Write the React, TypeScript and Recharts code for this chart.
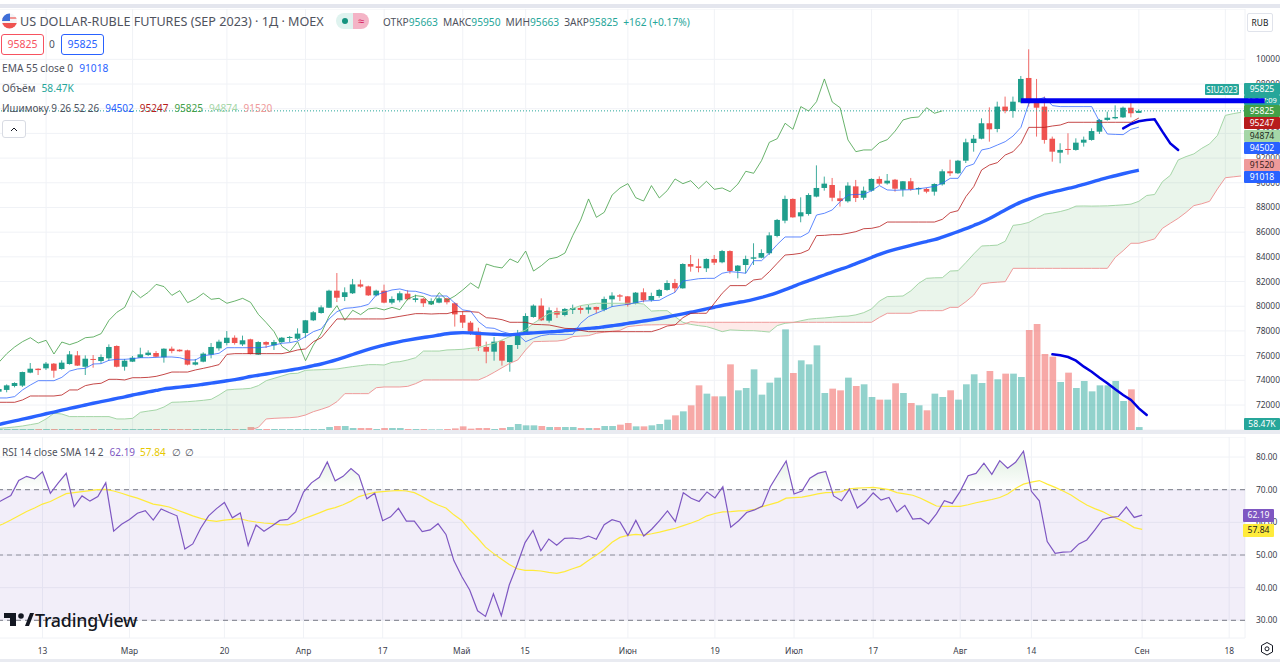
// App.tsx - USD/RUB futures daily chart with ichimoku, EMA, volume and RSI
import {
  ComposedChart,
  Bar,
  Cell,
  Line,
  Area,
  XAxis,
  YAxis,
  CartesianGrid,
  ReferenceLine,
  ReferenceArea,
} from "recharts";

const opens = [
  73080,73220,73540,73570,74620,74940,74970,75350,74920,75320,
  76020,75100,75730,75560,75780,76780,75100,75510,75830,76050,
  76210,75860,76560,76480,76430,75270,75510,76080,76590,77020,
  77450,76910,77320,76080,77100,76830,77100,77450,77370,77830,
  78860,79450,79880,81260,80750,81050,81770,81610,80880,81260,
  80290,80480,81020,80510,80610,80150,80290,80640,80240,79290,
  78670,77940,76700,76320,77180,75480,76860,77890,79130,80050,
  78830,79610,79290,79700,79860,79720,79940,79720,80560,80880,
  80800,80210,81130,80500,80830,81320,81880,81450,83420,83230,
  83070,83830,83560,84470,82850,83340,83850,83930,84290,85690,
  86930,88690,87280,87470,88880,89580,89820,88740,88500,89710,
  88790,89360,90310,89950,90250,89440,90120,89470,89500,89280,
  89870,90930,90770,91790,93220,93570,94820,94360,96170,95810,
  96520,98490,96490,96170,93570,92440,92740,92660,93250,93470,
  94140,95090,95220,95300,96080,95663,
];
const highs = [
  73400,73670,73840,74700,75400,74970,75480,75400,75620,76370,
  76370,76020,76050,76100,76910,76830,75730,75970,76640,76430,
  76370,76590,76730,76510,76480,75730,76270,77020,77290,77990,
  77640,77620,77370,77160,77160,77270,77510,77590,78210,78890,
  79610,80070,81340,82690,81530,82210,82150,81670,81340,81750,
  80800,81210,81290,80940,80690,80640,80780,80690,80320,79610,
  78800,78260,77130,77510,77270,76860,78080,79430,80150,80640,
  79910,79880,79860,80130,80020,80100,79970,80780,81130,80990,
  80830,81150,81450,81100,81400,82100,82210,83480,84150,83850,
  83880,84150,84560,84530,83340,84100,85100,84610,85990,87070,
  88960,88740,88820,89150,91410,90500,90390,89360,90040,90230,
  89690,90360,90520,90710,90310,90140,90390,89630,89600,89960,
  91090,91870,91850,93570,93870,95220,96110,96570,96980,96980,
  98650,100810,98410,96980,93740,93200,94010,93600,93740,94410,
  95170,95760,96270,96170,96520,95950,
];
const lows = [
  72970,73030,73430,73460,74570,74430,74840,74210,74860,75270,
  75160,74430,75020,75380,75590,75050,74780,75480,75810,75970,
  75860,75430,76190,76320,75210,75210,75460,75780,76400,76830,
  76890,76780,76100,76050,76620,76460,77020,77100,77270,77430,
  78800,79400,79860,80340,80420,80990,81500,80830,80800,80240,
  80150,80320,80480,80320,79940,80100,80240,80150,78350,78240,
  77670,76370,75380,75590,75190,74700,76540,77670,79070,78800,
  78670,79050,79180,79370,79400,79400,79430,79590,79940,80420,
  79970,80150,80320,80370,80690,81260,81130,81420,82800,82750,
  82770,83340,83480,82640,82260,82670,83340,83880,84150,85580,
  86720,87170,86800,87340,88820,89360,88500,88070,88390,88440,
  88610,89280,89820,89850,89280,88880,89360,89040,89150,88960,
  89770,90550,90710,91600,92520,93520,93330,94090,95630,95270,
  96440,96170,93740,93170,91710,91580,92280,92600,92930,93410,
  93950,95030,95140,95250,95300,95663,
];
const closes = [
  73290,73590,73780,74670,74940,74830,75350,74780,75430,76100,
  75190,75750,75670,75890,76700,75100,75590,75830,76100,76240,
  75910,76560,76370,76350,75270,75460,76160,76700,77130,77450,
  77020,77240,76130,77100,76890,77100,77450,77510,77780,78860,
  79510,79910,81260,80690,81130,81770,81590,80880,81260,80290,
  80590,81050,80560,80640,80240,80420,80640,80320,79340,78670,
  77940,76750,76320,77130,75590,76860,77800,79210,80050,78860,
  79670,79320,79780,79860,79700,79910,79720,80590,80860,80780,
  80130,81100,80480,80830,81320,81880,81450,83420,83210,83100,
  83830,83530,84470,82850,83290,83830,83960,84310,85740,86990,
  88690,87200,87610,89010,89580,89930,88790,88520,89770,88770,
  89360,90310,89930,90170,89520,90120,89470,89580,89280,89900,
  90930,90770,91790,93280,93570,94820,94330,96170,95810,96570,
  98410,96540,96080,93470,92520,92660,92660,93250,93490,94190,
  95090,95270,95330,96080,95630,95825,
];
const tenkan = [
  72570,72570,72680,73220,73620,73970,73970,73970,74240,74750,
  74920,74970,75320,75350,75620,75700,75700,75750,75830,75830,
  75860,75890,75890,75830,75650,75650,76000,76080,76190,76640,
  76640,76640,76640,76640,76700,76860,77000,77050,77180,77540,
  77940,78160,78970,79560,79830,79880,79970,80150,80910,81130,
  81320,81400,81230,81210,81050,80830,80830,80830,80240,79700,
  79610,78750,78260,78210,77940,77780,77720,77130,77400,77620,
  77720,77720,77720,77720,78620,79160,79430,79700,79970,80070,
  80150,80290,80420,80450,80480,80830,81130,82040,82130,82230,
  82260,82260,82670,82800,82750,82670,83690,83690,84290,85000,
  85610,85610,85610,85960,87390,87530,87800,88470,89010,89060,
  89060,89360,89770,89420,89390,89420,89440,89520,89600,89710,
  89960,90360,90360,91300,91520,92660,92790,93060,93330,93790,
  94490,96440,96700,96920,96250,96170,96170,96170,96170,96170,
  94950,93950,93920,93900,94330,94502,
];
const kijun = [
  72220,72220,72220,72410,72730,72730,72730,72730,72810,73220,
  73220,73570,73700,73760,74080,74080,74030,74210,74210,74240,
  74320,74480,74670,74670,74670,74840,74970,75110,75270,76100,
  76160,76160,76160,76160,76160,76160,76160,76290,76460,76540,
  77130,77450,78210,78970,78970,78970,78970,78970,78970,78970,
  79070,79180,79290,79400,79400,79370,79400,79400,79560,79560,
  79560,79510,79070,79020,78910,78700,78700,78700,78530,78510,
  78480,78350,78210,78180,78050,77940,77940,77940,77940,77940,
  77940,77940,77940,77940,78130,78400,78480,79070,79430,79430,
  79430,80240,81050,81670,81670,81670,82130,82210,82800,83480,
  84150,84200,84290,84560,85720,85740,85800,85800,85910,86040,
  86280,86310,86450,86820,86820,86820,86820,86820,86820,86820,
  87040,87580,87740,88880,89690,91040,91440,91630,92250,92520,
  93200,94490,94490,94490,94600,94680,94900,94900,94900,94900,
  94900,94900,94900,94900,94900,95247,
];
const chikou = [
  75460,76160,76700,77130,77450,77020,77240,76130,77100,76890,
  77100,77450,77510,77780,78860,79510,79910,81260,80690,81130,
  81770,81590,80880,81260,80290,80590,81050,80560,80640,80240,
  80420,80640,80320,79340,78670,77940,76750,76320,77130,75590,
  76860,77800,79210,80050,78860,79670,79320,79780,79860,79700,
  79910,79720,80590,80860,80780,80130,81100,80480,80830,81320,
  81880,81450,83420,83210,83100,83830,83530,84470,82850,83290,
  83830,83960,84310,85740,86990,88690,87200,87610,89010,89580,
  89930,88790,88520,89770,88770,89360,90310,89930,90170,89520,
  90120,89470,89580,89280,89900,90930,90770,91790,93280,93570,
  94820,94330,96170,95810,96570,98410,96540,96080,93470,92520,
  92660,92660,93250,93490,94190,95090,95270,95330,96080,95630,
  95825,
];
const senkouA = [
  70110,70160,70220,70300,70410,70520,70870,71330,71270,71060,
  71060,71060,71060,71060,71060,70870,70870,70920,71410,71510,
  71600,71840,72220,72240,72270,72320,72380,72460,72810,73220,
  73270,73300,73350,73570,73970,74160,74350,74540,74570,74810,
  74840,74860,74890,74920,75020,75110,75190,75270,75270,75240,
  75460,75510,75650,75830,76370,76370,76370,76460,76480,76510,
  76590,76640,76860,77000,77270,77540,77810,78080,78620,79020,
  79430,79510,79560,79830,80050,80150,80240,80240,80240,80240,
  80240,80240,80180,79610,79640,79640,79160,78700,78530,78430,
  78350,78160,77940,78080,78050,78020,78020,77970,77910,78430,
  78620,78680,78820,78950,79010,79050,79110,79180,79200,79300,
  79480,79780,80420,80780,80800,80830,81250,81860,82260,82300,
  82310,82850,82880,83540,84240,84880,84910,84950,85260,86550,
  86630,86790,87140,87460,87550,87670,87840,88110,88120,88110,
  88120,88130,88170,88210,88270,88500,88970,89050,90090,90600,
  91850,92120,92340,92790,93150,93840,95460,95600,95710,
];
const senkouB = [
  69800,69800,69800,69800,69800,69800,69800,69800,69800,69800,
  69800,69800,69800,69800,69800,69800,69800,69800,69800,69800,
  69800,69800,69800,69800,69800,69800,69800,69800,69800,69800,
  69800,69800,69980,70190,70870,70920,70950,70970,71030,71190,
  71460,71650,71870,72270,72920,72920,72920,72920,73400,73460,
  73460,73460,73510,73730,74030,74030,74030,74030,74030,74030,
  74030,74030,74300,74650,75020,75380,75650,76460,77130,77150,
  77170,77180,77270,77540,77580,77620,77810,77900,77980,78050,
  78350,78420,78480,78490,78500,78510,78520,78530,78750,78700,
  78700,78700,78700,78700,78700,78700,78700,78700,78700,78700,
  78700,78700,78700,78700,78700,78700,78700,78700,78700,78700,
  78700,78700,79100,79430,79430,79430,79430,79640,79640,79640,
  79640,79910,79910,80370,80910,81800,81900,81950,81990,83070,
  83070,83070,83070,83070,83070,83070,83070,83070,83070,83070,
  83070,83070,83960,84500,85100,85100,85270,85450,86310,86720,
  87120,87600,88150,88300,88500,89500,90410,90480,90550,
];
const ema55 = [
  70430,70570,70710,70850,70990,71140,71290,71430,71580,71720,
  71860,72000,72140,72270,72400,72530,72660,72810,72930,73060,
  73180,73310,73380,73450,73520,73590,73680,73770,73860,73960,
  74060,74170,74310,74410,74510,74620,74720,74820,74920,75050,
  75190,75320,75490,75680,75880,76090,76300,76500,76680,76850,
  77000,77140,77260,77370,77470,77560,77670,77770,77830,77860,
  77840,77800,77760,77730,77700,77680,77740,77800,77840,77880,
  77920,77960,78020,78080,78150,78210,78260,78340,78420,78500,
  78610,78700,78800,78900,79010,79130,79260,79380,79510,79640,
  79780,79920,80060,80180,80300,80420,80560,80720,80900,81110,
  81340,81590,81840,82070,82300,82530,82770,82990,83200,83450,
  83700,83950,84200,84420,84600,84770,84930,85090,85240,85390,
  85600,85820,86050,86280,86540,86800,87110,87450,87800,88130,
  88430,88680,88890,89080,89240,89390,89540,89685,89870,90050,
  90240,90420,90570,90730,90880,91018,
];
// volume, thousands of contracts
const volumes = [
  20,20,20,20,20,20,20,20,20,20,
  20,20,20,20,20,20,20,20,20,20,
  20,20,20,20,20,20,20,20,20,20,
  20,20,60,20,20,20,20,20,20,20,
  20,20,60,80,80,40,40,40,20,40,
  40,40,20,20,20,13,13,20,33,73,
  27,40,40,20,40,60,120,93,93,80,
  60,60,60,60,40,40,40,80,80,107,
  140,73,73,93,120,207,293,373,493,893,
  727,673,673,1313,793,840,1213,707,947,1047,
  2013,1140,1393,1313,1693,740,827,793,1047,880,
  914,660,607,607,934,740,540,494,394,727,
  660,794,607,914,1114,940,1180,1014,1127,1127,
  1060,2000,2120,1520,1467,960,1147,840,980,773,
  893,893,980,580,813,58.47,
];
const rsi = [
  65.6,66.9,68.2,72.8,74.1,73.3,75.5,68.9,72.1,75.0,
  64.8,68.1,66.5,67.9,72.1,57.3,59.4,60.9,62.8,63.6,
  60.7,64.1,63.0,62.0,51.8,53.4,58.2,62.0,64.2,66.1,
  61.4,62.9,52.9,59.2,57.3,58.9,60.6,60.9,63.3,69.3,
  72.1,73.8,78.5,72.7,74.1,76.5,74.4,67.2,68.9,60.5,
  61.7,64.3,60.4,60.4,57.2,57.7,59.6,56.3,48.3,43.4,
  39.3,32.9,31.2,38.1,31.4,40.8,47.0,53.8,57.5,51.3,
  54.9,53.0,55.1,55.2,54.9,55.8,54.8,59.3,60.8,60.1,
  56.0,60.6,55.8,57.9,60.5,63.5,60.2,69.1,67.4,66.4,
  69.3,67.5,70.9,58.5,60.5,63.0,63.8,65.0,70.9,74.9,
  78.8,68.7,69.6,73.5,75.0,75.6,68.1,66.6,70.2,64.4,
  66.2,69.0,66.8,67.6,63.2,65.2,61.0,61.2,59.5,62.6,
  66.6,65.8,69.5,74.3,75.0,78.1,74.7,78.9,76.6,78.4,
  81.8,69.5,66.6,54.1,50.5,50.9,51.0,53.4,54.6,57.6,
  60.9,61.5,61.8,64.7,61.5,62.19,
];
const rsiSma = [
  58.6,59.5,60.7,62.0,63.3,64.4,65.6,66.4,67.6,68.8,
  69.1,69.4,69.7,70.0,70.1,69.6,68.9,68.1,67.4,66.5,
  65.6,65.2,64.7,63.8,62.9,62.0,61.2,60.6,60.3,60.7,
  60.9,61.1,60.5,60.1,59.8,59.6,59.3,59.2,59.9,61.1,
  62.0,62.9,63.9,64.5,65.4,66.5,67.9,68.6,69.2,69.4,
  69.6,69.8,69.6,69.1,67.9,66.5,65.3,64.4,62.3,60.6,
  57.7,55.2,52.4,50.5,48.8,47.1,45.8,45.3,45.3,45.1,
  44.7,44.4,44.9,45.8,46.6,48.3,49.9,51.7,53.9,55.4,
  56.0,56.3,56.1,56.5,57.0,57.6,58.2,59.0,59.8,60.7,
  62.0,62.7,63.2,63.3,63.5,63.6,64.0,64.8,65.5,66.2,
  67.4,67.6,67.7,68.2,68.7,69.1,69.2,69.4,70.3,70.5,
  70.6,70.7,70.4,70.0,69.1,68.7,68.3,67.4,66.2,65.0,
  64.9,64.9,64.9,65.4,66.0,66.5,67.0,67.6,68.7,70.4,
  71.7,72.3,72.8,71.7,70.7,69.6,68.4,66.8,65.3,64.2,
  63.3,62.0,61.0,59.9,58.4,57.84,
];

// hand-drawn blue strokes on the original screenshot: [bar index, price]
const drawnLevel = [[130, 96650], [161, 96650]];
const drawnPriceArrow = [
  [143, 94410], [144, 94761], [145, 94977], [146, 95085],
  [147, 95139], [148, 94140], [149, 93195], [150, 92655],
];
const drawnVolumeArrow = [
  [134, 76104], [135, 76023], [136, 75888], [137, 75591], [138, 75105], [139, 74700],
  [140, 74214], [141, 73755], [142, 73269], [143, 72810], [144, 72405], [145, 71730], [146, 71190],
];

const xTickBars = [6, 17, 29, 39, 49, 59, 67, 80, 91, 101, 111, 122, 131, 145, 156];
const xTickLabels = ["13", "Мар", "20", "Апр", "17", "Май", "15", "Июн", "19", "Июл", "17", "Авг", "14", "Сен", "18"];
const priceTicks = [72000, 74000, 76000, 78000, 80000, 82000, 84000, 86000, 88000, 90000, 92000, 94000, 96000, 98000, 100000];
const rsiTicks = [30, 40, 50, 60, 70, 80];

const BAR_COUNT = 159;
const OVERLAY_COUNT = 163;
const BAND = 1250 / BAR_COUNT;
const PRICE_DOMAIN: [number, number] = [69975, 104076];
const RSI_DOMAIN: [number, number] = [24.58, 86.14];

const TEAL = "#1f9e8c";
const RED = "#ef5350";
const GRID = "#f0f2f6";
const FONT = '"Noto Sans", sans-serif';

document.body.style.margin = "0";

const rows = Array.from({ length: BAR_COUNT }, (_, i) => {
  const a = senkouA[i];
  const b = senkouB[i];
  const r = rsi[i];
  return {
    i,
    open: opens[i] ?? null,
    high: highs[i] ?? null,
    low: lows[i] ?? null,
    close: closes[i] ?? null,
    tenkan: tenkan[i] ?? null,
    kijun: kijun[i] ?? null,
    chikou: chikou[i] ?? null,
    a,
    b,
    cloudUp: a >= b ? [b, a] : [a, a],
    cloudDown: a < b ? [a, b] : [b, b],
    ema: ema55[i] ?? null,
    volume: volumes[i] ?? null,
    rsi: r ?? null,
    sma: rsiSma[i] ?? null,
    overbought: r == null ? null : [70, Math.max(70, r)],
  };
});

const overlayRows = Array.from({ length: OVERLAY_COUNT }, (_, i) => ({
  i,
  level: drawnLevel.find((p) => p[0] === i)?.[1] ?? null,
  priceArrow: drawnPriceArrow.find((p) => p[0] === i)?.[1] ?? null,
  volumeArrow: drawnVolumeArrow.find((p) => p[0] === i)?.[1] ?? null,
}));

function Candle(props: any) {
  const { x, y, width, height, payload } = props;
  if (!payload || payload.high == null) return <g />;
  const { open, close, high, low } = payload;
  const h = Math.abs(height);
  const perPrice = h / (high - low);
  const color = close >= open ? TEAL : RED;
  const top = y + (high - Math.max(open, close)) * perPrice;
  const bodyH = Math.max(Math.abs(open - close) * perPrice, 1);
  const cx = x + width / 2;
  return (
    <g>
      <line x1={cx} x2={cx} y1={y} y2={y + h} stroke={color} strokeWidth={1} strokeOpacity={0.85} />
      <rect x={x} y={top} width={width} height={bodyH} fill={color} />
    </g>
  );
}

function Badge(props: { top: number; h?: number; left?: number; w?: number; bg: string; color?: string; text: string; size?: number }) {
  const { top, h = 12, left = 1244, w = 36, bg, color = "#fff", text, size = 8.6 } = props;
  return (
    <div
      style={{
        position: "absolute",
        top,
        left,
        width: w,
        height: h,
        lineHeight: h + "px",
        background: bg,
        color,
        fontSize: size,
        textAlign: "center",
        borderRadius: 1,
      }}
    >
      {text}
    </div>
  );
}

function Label(props: { x: number; y: number; size?: number; children: any; color?: string }) {
  const { x, y, size = 10.2, children, color = "#50535e" } = props;
  return (
    <div
      style={{
        position: "absolute",
        left: x,
        top: y,
        fontSize: size,
        lineHeight: "16px",
        color,
        whiteSpace: "nowrap",
      }}
    >
      {children}
    </div>
  );
}

function Num(props: { c: string; children: any; mx?: number }) {
  return <span style={{ color: props.c, marginLeft: props.mx ?? 0 }}>{props.children}</span>;
}

export default function App() {
  const tickFmt = (v: number) => xTickLabels[xTickBars.indexOf(v)] ?? "";
  const scaleTick = { fontSize: 8.4, fill: "#3c404b", fontFamily: FONT };
  return (
    <div
      style={{
        position: "fixed",
        left: 0,
        top: 0,
        width: 1280,
        height: 664,
        overflow: "hidden",
        background: "#fff",
        fontFamily: FONT,
      }}
    >
      {/* frame bands */}
      <div style={{ position: "absolute", left: 0, top: 4, width: 1280, height: 4, background: "#e4e6ee" }} />
      <div style={{ position: "absolute", left: 0, top: 430, width: 1280, height: 4, background: "#e9ebf1" }} />
      <div style={{ position: "absolute", left: 0, top: 659, width: 1280, height: 3, background: "#e9ebf1" }} />

      {/* grid and price scale */}
      <div style={{ position: "absolute", left: -5, top: 9 }}>
        <ComposedChart width={1285} height={421} data={rows} margin={{ top: 0, right: 0, bottom: 0, left: 0 }}>
          <CartesianGrid stroke={GRID} />
          <XAxis dataKey="i" type="category" hide ticks={xTickBars} interval={0} />
          <YAxis
            orientation="right"
            width={35}
            domain={PRICE_DOMAIN}
            ticks={priceTicks}
            allowDataOverflow
            axisLine={false}
            tickLine={false}
            tickMargin={5}
            tick={scaleTick}
          />
          <Bar dataKey="volume" barSize={6.7} yAxisId={0} isAnimationActive={false} hide />
        </ComposedChart>
      </div>
      {/* volume layer */}
      <div style={{ position: "absolute", left: -5, top: 9 }}>
        <ComposedChart width={1250} height={421} data={rows} margin={{ top: 0, right: 0, bottom: 0, left: 0 }}>
          <XAxis dataKey="i" type="category" hide />
          <YAxis hide domain={[0, 8420]} allowDataOverflow />
          <Bar dataKey="volume" barSize={6.7} isAnimationActive={false}>
            {rows.map((r) => (
              <Cell
                key={r.i}
                fill={(r.close ?? 0) >= (r.open ?? 0) ? "#26a69a" : "#ef5350"}
                fillOpacity={0.5}
              />
            ))}
          </Bar>
        </ComposedChart>
      </div>

      {/* price layer */}
      <div style={{ position: "absolute", left: -5, top: 9 }}>
        <ComposedChart width={1250} height={421} data={rows} margin={{ top: 0, right: 0, bottom: 0, left: 0 }}>
          <XAxis dataKey="i" type="category" hide />
          <YAxis hide domain={PRICE_DOMAIN} allowDataOverflow />
          <Area dataKey={(d: any) => d.cloudUp} stroke="none" fill="#43a047" fillOpacity={0.11} dot={false} activeDot={false} isAnimationActive={false} />
          <Area dataKey={(d: any) => d.cloudDown} stroke="none" fill="#f44336" fillOpacity={0.11} dot={false} activeDot={false} isAnimationActive={false} />
          <ReferenceLine y={95825} stroke="#26a69a" strokeDasharray="1 2" />
          <Line dataKey="a" stroke="#a5d6a7" strokeWidth={1} dot={false} isAnimationActive={false} />
          <Line dataKey="b" stroke="#ef9a9a" strokeWidth={1} dot={false} isAnimationActive={false} />
          <Line dataKey="chikou" stroke="#43a047" strokeWidth={1} strokeOpacity={0.8} dot={false} isAnimationActive={false} />
          <Line dataKey="ema" type="monotone" stroke="#2962ff" strokeWidth={3.4} dot={false} isAnimationActive={false} />
          <Line dataKey="kijun" stroke="#b71c1c" strokeWidth={1} strokeOpacity={0.8} dot={false} isAnimationActive={false} />
          <Line dataKey="tenkan" stroke="#2962ff" strokeWidth={1} strokeOpacity={0.75} dot={false} isAnimationActive={false} />
          <Bar dataKey={(d: any) => (d.high == null ? null : [d.low, d.high])} barSize={5.6} shape={Candle} isAnimationActive={false} />
        </ComposedChart>
      </div>

      {/* RSI pane */}
      <div style={{ position: "absolute", left: -5, top: 437 }}>
        <ComposedChart width={1285} height={226} data={rows} margin={{ top: 0, right: 0, bottom: 0, left: 0 }}>
          <defs>
            <linearGradient id="obGrad" x1="0" y1="0" x2="0" y2="1">
              <stop offset="0%" stopColor="#43a047" stopOpacity={0.3} />
              <stop offset="100%" stopColor="#43a047" stopOpacity={0} />
            </linearGradient>
          </defs>
          <CartesianGrid stroke={GRID} />
          <ReferenceArea y1={30} y2={70} fill="#7e57c2" fillOpacity={0.1} stroke="none" />
          <XAxis
            dataKey="i"
            type="category"
            height={25}
            ticks={xTickBars}
            interval={0}
            tickFormatter={tickFmt}
            axisLine={false}
            tickLine={false}
            tickMargin={4}
            tick={scaleTick}
          />
          <YAxis
            orientation="right"
            width={35}
            domain={RSI_DOMAIN}
            ticks={rsiTicks}
            allowDataOverflow
            axisLine={false}
            tickLine={false}
            tickMargin={5}
            tickFormatter={(v: number) => v.toFixed(2)}
            tick={scaleTick}
          />
          <ReferenceLine y={70} stroke="#787b86" strokeDasharray="5 4" />
          <ReferenceLine y={50} stroke="#787b86" strokeDasharray="5 4" strokeOpacity={0.8} />
          <ReferenceLine y={30} stroke="#787b86" strokeDasharray="5 4" />
          <Area dataKey={(d: any) => d.overbought} stroke="none" fill="url(#obGrad)" dot={false} activeDot={false} isAnimationActive={false} />
          <Line dataKey="sma" stroke="#ffeb3b" strokeWidth={1.2} dot={false} isAnimationActive={false} />
          <Line dataKey="rsi" stroke="#7e57c2" strokeWidth={1.2} dot={false} isAnimationActive={false} />
        </ComposedChart>
      </div>

      {/* header */}
      <svg style={{ position: "absolute", left: 2, top: 13 }} width={15} height={16}>
        <defs>
          <clipPath id="flag"><circle cx={7.5} cy={8} r={7.5} /></clipPath>
        </defs>
        <g clipPath="url(#flag)">
          <rect width={15} height={16} fill="#f4f4f6" />
          <rect y={10} width={15} height={6} fill="#ef5350" />
          <rect y={4} width={15} height={2} fill="#ef5350" opacity={0.6} />
          <rect width={8} height={8} fill="#3f6fd8" />
        </g>
      </svg>
      <Label x={20} y={14} size={12.6}>US DOLLAR-RUBLE FUTURES (SEP 2023) · 1Д · MOEX</Label>
      <div style={{ position: "absolute", left: 336, top: 13, width: 17, height: 16, background: "#dff3ef", borderRadius: "8px 0 0 8px" }} />
      <div style={{ position: "absolute", left: 342, top: 18, width: 6, height: 6, background: "#15937f", borderRadius: 3 }} />
      <div style={{ position: "absolute", left: 353, top: 13, width: 16, height: 16, background: "#f4b4c6", borderRadius: "0 8px 8px 0", color: "#d81b60", fontSize: 11, lineHeight: "15px", textAlign: "center" }}>≈</div>
      <Label x={383} y={14} size={10.2}>
        ОТКР<Num c="#26a69a">95663</Num>
        <span style={{ marginLeft: 5 }}>МАКС</span><Num c="#26a69a">95950</Num>
        <span style={{ marginLeft: 5 }}>МИН</span><Num c="#26a69a">95663</Num>
        <span style={{ marginLeft: 5 }}>ЗАКР</span><Num c="#26a69a">95825</Num>
        <Num c="#26a69a" mx={5}>+162 (+0.17%)</Num>
      </Label>

      <div style={{ position: "absolute", left: 1, top: 34, width: 41, height: 19, border: "1px solid #f7525f", borderRadius: 3, color: "#f7525f", fontSize: 10.5, lineHeight: "19px", textAlign: "center" }}>95825</div>
      <Label x={49} y={36}>0</Label>
      <div style={{ position: "absolute", left: 61, top: 34, width: 41, height: 19, border: "1px solid #2962ff", borderRadius: 3, color: "#2962ff", fontSize: 10.5, lineHeight: "19px", textAlign: "center" }}>95825</div>

      <Label x={2} y={60}>EMA 55 close 0<Num c="#2962ff" mx={6}>91018</Num></Label>
      <Label x={2} y={80}>Объём<Num c="#26a69a" mx={6}>58.47K</Num></Label>
      <Label x={2} y={100} size={10}>
        Ишимоку 9 26 52 26
        <Num c="#2962ff" mx={6}>94502</Num>
        <Num c="#b71c1c" mx={6}>95247</Num>
        <Num c="#43a047" mx={6}>95825</Num>
        <Num c="#a5d6a7" mx={6}>94874</Num>
        <Num c="#ef9a9a" mx={6}>91520</Num>
      </Label>
      <div style={{ position: "absolute", left: 2, top: 120, width: 22, height: 16, border: "1px solid #d8dbe3", borderRadius: 3, background: "#fff" }}>
        <svg width={22} height={16}>
          <path d="M8 9 L11 6 L14 9" fill="none" stroke="#131722" strokeWidth={1} />
        </svg>
      </div>
      <div style={{ position: "absolute", left: 1247, top: 13, width: 24, height: 17, border: "1px solid #e0e3eb", borderRadius: 2, fontSize: 8.4, lineHeight: "17px", textAlign: "center", color: "#131722" }}>RUB</div>

      <Label x={2} y={444} size={10}>
        RSI 14 close SMA 14 2
        <Num c="#7e57c2" mx={6}>62.19</Num>
        <Num c="#e6c800" mx={5}>57.84</Num>
        <span style={{ marginLeft: 6 }}>∅</span>
        <span style={{ marginLeft: 4 }}>∅</span>
      </Label>

      {/* value badges on the price scale */}
      <Badge top={84} h={11} left={1205} w={34} bg="#26a69a" text="SIU2023" size={8} />
      <Badge top={83} bg="#26a69a" text="95825" />
      <Badge top={95} h={10} bg="#26a69a" text="18:27:09" size={7.5} />
      <Badge top={105} bg="#43a047" text="95825" />
      <Badge top={117} bg="#b71c1c" text="95247" />
      <Badge top={130} bg="#a5d6a7" color="#1f2a22" text="94874" />
      <Badge top={142} bg="#2962ff" text="94502" />
      <Badge top={159} bg="#ef9a9a" color="#3a2020" text="91520" />
      <Badge top={171} bg="#2962ff" text="91018" />
      <Badge top={418} bg="#26a69a" text="58.47K" />
      <Badge top={509} w={31} h={13} left={1243} bg="#7e57c2" text="62.19" />
      <Badge top={524} w={31} h={13} left={1243} bg="#ffeb3b" color="#222" text="57.84" />

      {/* hand drawn strokes */}
      <div style={{ position: "absolute", left: -5, top: 9 }}>
        <ComposedChart width={BAND * OVERLAY_COUNT} height={421} data={overlayRows} margin={{ top: 0, right: 0, bottom: 0, left: 0 }}>
          <XAxis dataKey="i" type="category" hide />
          <YAxis hide domain={PRICE_DOMAIN} allowDataOverflow />
          <Bar dataKey="none" hide isAnimationActive={false} />
          <Line dataKey="level" stroke="#0000f0" strokeWidth={5} dot={false} connectNulls isAnimationActive={false} />
          <Line dataKey="priceArrow" stroke="#0000e0" strokeWidth={2.5} strokeLinecap="round" dot={false} isAnimationActive={false} />
          <Line dataKey="volumeArrow" stroke="#0000e0" strokeWidth={2.5} strokeLinecap="round" dot={false} isAnimationActive={false} />
        </ComposedChart>
      </div>

      {/* logo */}
      <svg style={{ position: "absolute", left: 4, top: 612 }} width={30} height={15}>
        <path d="M0 1 H12 V14 H6 V6 H0 Z" fill="#131722" />
        <circle cx={17} cy={4} r={2.8} fill="#131722" />
        <path d="M21 14 L26 1 H30 L25 14 Z" fill="#131722" />
      </svg>
      <Label x={35} y={611} size={17.8} color="#131722">
        <span style={{ lineHeight: "18px", letterSpacing: -0.2, fontWeight: 500 }}>TradingView</span>
      </Label>

      {/* settings glyph */}
      <svg style={{ position: "absolute", left: 1260, top: 641 }} width={14} height={16}>
        <path d="M7 1.5 L12.5 4.5 V11 L7 14 L1.5 11 V4.5 Z" fill="none" stroke="#131722" strokeWidth={1} />
        <circle cx={7} cy={7.8} r={2} fill="none" stroke="#131722" strokeWidth={1} />
      </svg>
    </div>
  );
}
